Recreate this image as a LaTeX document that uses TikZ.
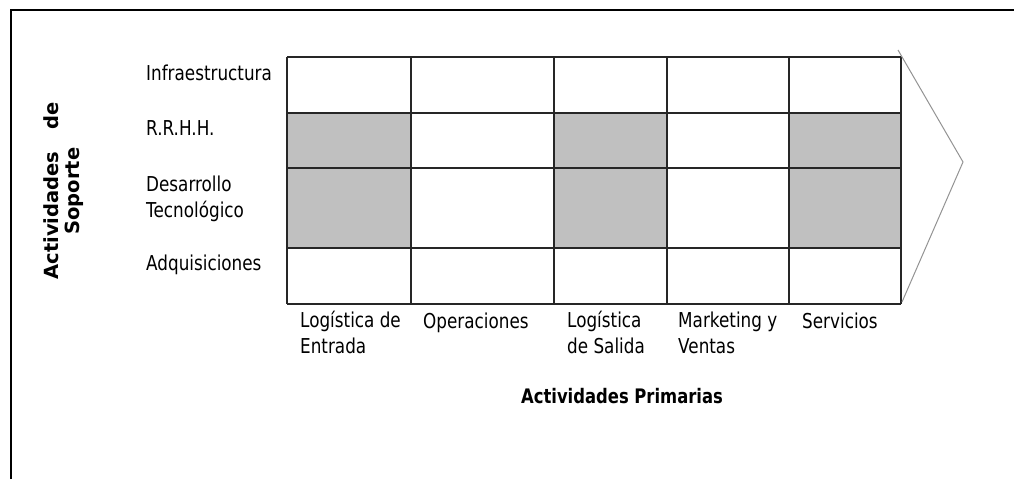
\documentclass[tikz,border=0pt]{standalone}
\usepackage{fontspec}
\setmainfont{DejaVu Sans}[FakeStretch=0.82]
\newfontfamily\widefont{DejaVu Sans}
\tikzset{
  lab/.style={font=\fontsize{20.5}{26}\selectfont, inner sep=0pt, align=left},
  primlab/.style={font=\fontsize{20}{24}\selectfont\bfseries, inner sep=0pt},
  soplab/.style={font=\widefont\fontsize{19.5}{21}\selectfont\bfseries, inner sep=0pt, align=center},
  grid/.style={line width=1.3pt, black!85},
}
\definecolor{cellgrey}{HTML}{C0C0C0}
\begin{document}
\begin{tikzpicture}[x=1pt, y=-1pt]
\useasboundingbox (0,0) rectangle (1014,479);
% ---------- frame ----------
\draw[line width=1.6pt] (11,479) -- (11,10) -- (1014,10);
% ---------- grey cells ----------
\foreach \xa/\xb in {287/411, 554/667, 789/901}
  \fill[cellgrey] (\xa,113) rectangle (\xb,248);
% ---------- grid ----------
\foreach \x in {287,411,554,667,789,901}
  \draw[grid] (\x,57) -- (\x,304);
\foreach \y in {57,113,168,248,304}
  \draw[grid] (287,\y) -- (901,\y);
% ---------- chevron ----------
\draw[gray!85, line width=1pt] (898,50) -- (963,162) -- (902,302);
% ---------- support activities ----------
\node[lab, anchor=base west] (infra) at (146,80) {Infraestructura};
\node[lab, anchor=base west] (rrhh) at (146,135) {R.R.H.H.};
\node[lab, anchor=base west] (desa) at (146,217) {Desarrollo\\Tecnológico};
\node[lab, anchor=base west] (adqu) at (146,270) {Adquisiciones};
\node[soplab, rotate=90] (soporte) at (64,191) {Actividades\hspace{22pt}de\\Soporte};
% ---------- primary activities ----------
\foreach \x/\y/\name/\txt in {300/353/logent/{Logística de\\Entrada}, 423/328/oper/Operaciones,
  567/353/logsal/{Logística\\de Salida}, 678/353/mkt/{Marketing y\\Ventas}, 802/328/serv/Servicios}
  \node[lab, anchor=base west] (\name) at (\x,\y) {\txt};
\node[primlab, anchor=base] (primarias) at (622,403) {Actividades Primarias};
\end{tikzpicture}
\end{document}
